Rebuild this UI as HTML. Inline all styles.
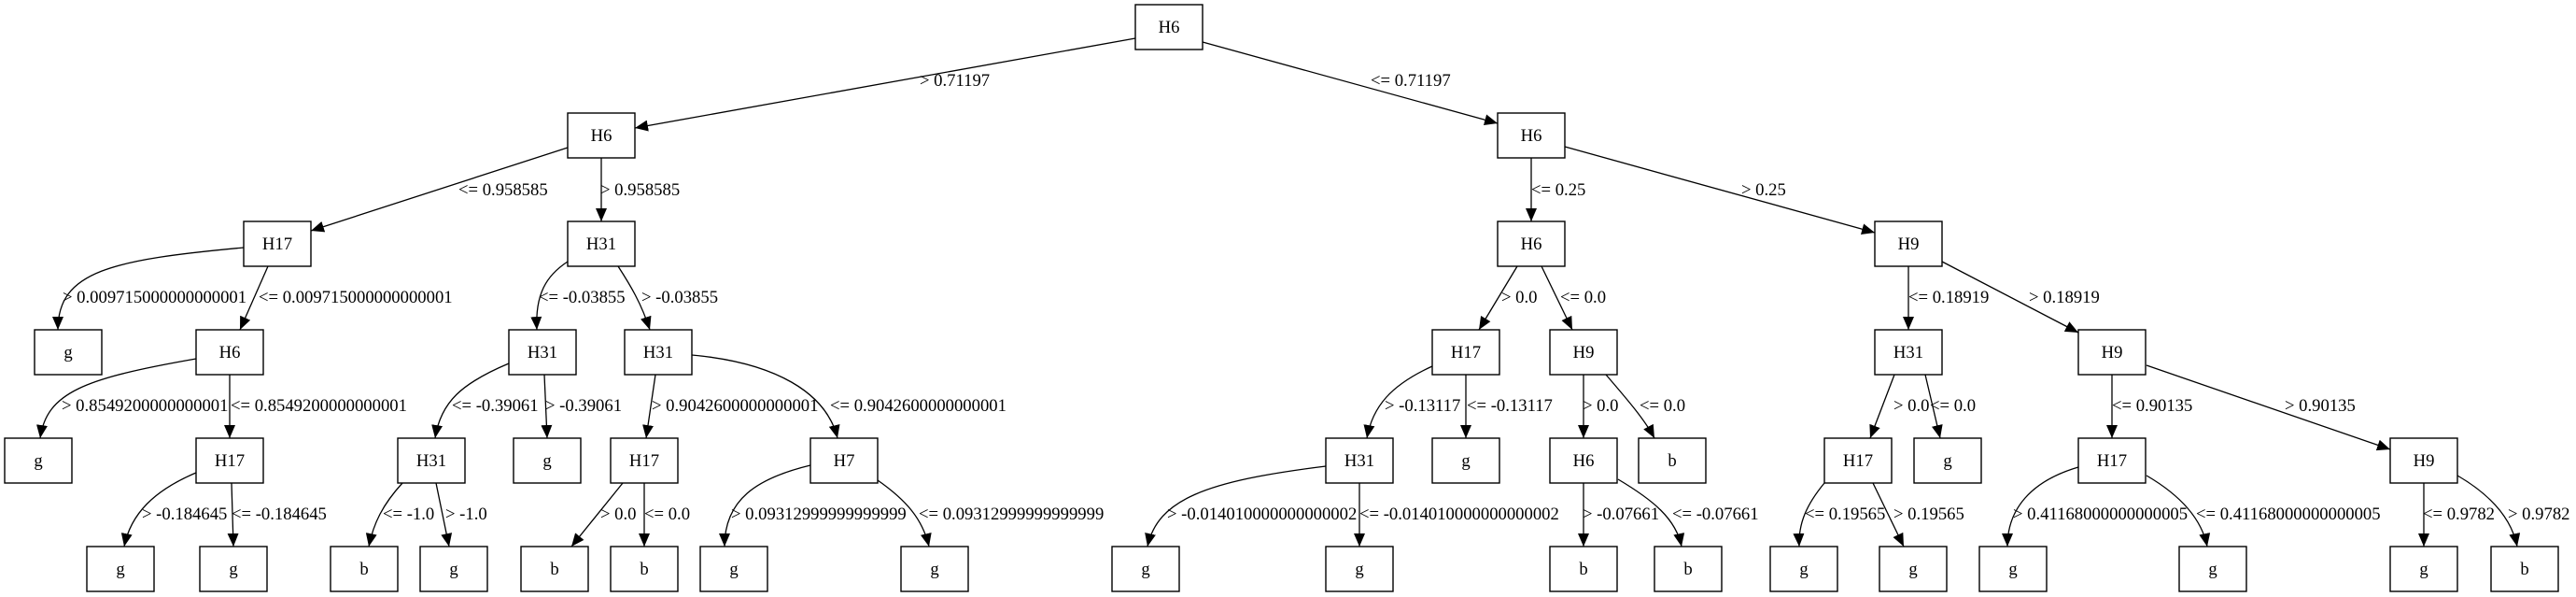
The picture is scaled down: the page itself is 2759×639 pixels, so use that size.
<!DOCTYPE html>
<html><head><meta charset="utf-8"><style>
html,body{margin:0;padding:0;background:#fff;}
svg{display:block;}
text{font-family:"Liberation Serif",serif;font-size:18.67px;fill:#000;}
</style></head><body>
<svg width="2759" height="639" viewBox="0 0 2759 639" xmlns="http://www.w3.org/2000/svg">
<defs>
<marker id="a" markerUnits="userSpaceOnUse" markerWidth="16" markerHeight="12" refX="14" refY="6" orient="auto">
<path d="M0,0 L14,6 L0,12 Z" fill="#000"/>
</marker>
</defs>
<g fill="#fff" stroke="#000" stroke-width="1.4">
<rect x="1216" y="5" width="72" height="48"/>
<rect x="608" y="121" width="72" height="48"/>
<rect x="1604" y="121" width="72" height="48"/>
<rect x="261" y="237" width="72" height="48"/>
<rect x="608" y="237" width="72" height="48"/>
<rect x="1604" y="237" width="72" height="48"/>
<rect x="2008" y="237" width="72" height="48"/>
<rect x="37" y="353" width="72" height="48"/>
<rect x="210" y="353" width="72" height="48"/>
<rect x="545" y="353" width="72" height="48"/>
<rect x="669" y="353" width="72" height="48"/>
<rect x="1534" y="353" width="72" height="48"/>
<rect x="1660" y="353" width="72" height="48"/>
<rect x="2008" y="353" width="72" height="48"/>
<rect x="2226" y="353" width="72" height="48"/>
<rect x="5" y="469" width="72" height="48"/>
<rect x="210" y="469" width="72" height="48"/>
<rect x="426" y="469" width="72" height="48"/>
<rect x="550" y="469" width="72" height="48"/>
<rect x="654" y="469" width="72" height="48"/>
<rect x="868" y="469" width="72" height="48"/>
<rect x="1420" y="469" width="72" height="48"/>
<rect x="1534" y="469" width="72" height="48"/>
<rect x="1660" y="469" width="72" height="48"/>
<rect x="1755" y="469" width="72" height="48"/>
<rect x="1954" y="469" width="72" height="48"/>
<rect x="2050" y="469" width="72" height="48"/>
<rect x="2226" y="469" width="72" height="48"/>
<rect x="2560" y="469" width="72" height="48"/>
<rect x="93" y="585" width="72" height="48"/>
<rect x="214" y="585" width="72" height="48"/>
<rect x="354" y="585" width="72" height="48"/>
<rect x="450" y="585" width="72" height="48"/>
<rect x="558" y="585" width="72" height="48"/>
<rect x="654" y="585" width="72" height="48"/>
<rect x="750" y="585" width="72" height="48"/>
<rect x="965" y="585" width="72" height="48"/>
<rect x="1191" y="585" width="72" height="48"/>
<rect x="1420" y="585" width="72" height="48"/>
<rect x="1660" y="585" width="72" height="48"/>
<rect x="1772" y="585" width="72" height="48"/>
<rect x="1896" y="585" width="72" height="48"/>
<rect x="2013" y="585" width="72" height="48"/>
<rect x="2120" y="585" width="72" height="48"/>
<rect x="2334" y="585" width="72" height="48"/>
<rect x="2560" y="585" width="72" height="48"/>
<rect x="2668" y="585" width="72" height="48"/>
</g>
<g fill="none" stroke="#000" stroke-width="1.3" marker-end="url(#a)">
<path d="M1216,41 L680,137"/>
<path d="M1288,45 L1604,132"/>
<path d="M608,158 L333,247"/>
<path d="M644,169 L644,237"/>
<path d="M1640,169 L1640,237"/>
<path d="M1676,157 L2008,249"/>
<path d="M261,265 C120,278 62,290 62,353"/>
<path d="M287,285 L257,353"/>
<path d="M608,280 C585,295 573,315 575,353"/>
<path d="M662,285 C675,305 687,325 696,353"/>
<path d="M1625,285 L1584,353"/>
<path d="M1651,285 L1684,353"/>
<path d="M2044,285 L2044,353"/>
<path d="M2080,280 L2226,356"/>
<path d="M210,384 C90,405 50,420 43,469"/>
<path d="M246,401 L246,469"/>
<path d="M545,389 C495,410 472,430 466,469"/>
<path d="M583,401 L586,469"/>
<path d="M702,401 L692,469"/>
<path d="M741,380 C830,388 885,420 897,469"/>
<path d="M1534,392 C1490,412 1470,435 1464,469"/>
<path d="M1570,401 L1570,469"/>
<path d="M1696,401 L1696,469"/>
<path d="M1720,401 C1745,430 1762,450 1772,469"/>
<path d="M2029,401 L2003,469"/>
<path d="M2062,401 L2078,469"/>
<path d="M2262,401 L2262,469"/>
<path d="M2299,391 L2560,481"/>
<path d="M210,506 C165,525 140,550 133,585"/>
<path d="M248,517 L250,585"/>
<path d="M431,517 C410,540 400,560 395,585"/>
<path d="M467,517 L481,585"/>
<path d="M667,517 L612,585"/>
<path d="M690,517 L690,585"/>
<path d="M868,498 C810,512 776,535 776,585"/>
<path d="M940,514 C970,535 988,555 995,585"/>
<path d="M1420,499 C1290,515 1240,535 1229,585"/>
<path d="M1456,517 L1456,585"/>
<path d="M1696,517 L1696,585"/>
<path d="M1733,513 C1770,535 1795,555 1801,585"/>
<path d="M1954,517 C1935,540 1926,560 1927,585"/>
<path d="M2006,517 L2039,585"/>
<path d="M2226,500 C2175,515 2150,545 2150,585"/>
<path d="M2299,509 C2335,530 2358,555 2364,585"/>
<path d="M2596,517 L2596,585"/>
<path d="M2632,509 C2668,530 2690,555 2696,585"/>
</g>
<g text-anchor="middle">
<text x="1252" y="35">H6</text>
<text x="644" y="151">H6</text>
<text x="1640" y="151">H6</text>
<text x="297" y="267">H17</text>
<text x="644" y="267">H31</text>
<text x="1640" y="267">H6</text>
<text x="2044" y="267">H9</text>
<text x="73" y="383">g</text>
<text x="246" y="383">H6</text>
<text x="581" y="383">H31</text>
<text x="705" y="383">H31</text>
<text x="1570" y="383">H17</text>
<text x="1696" y="383">H9</text>
<text x="2044" y="383">H31</text>
<text x="2262" y="383">H9</text>
<text x="41" y="499">g</text>
<text x="246" y="499">H17</text>
<text x="462" y="499">H31</text>
<text x="586" y="499">g</text>
<text x="690" y="499">H17</text>
<text x="904" y="499">H7</text>
<text x="1456" y="499">H31</text>
<text x="1570" y="499">g</text>
<text x="1696" y="499">H6</text>
<text x="1791" y="499">b</text>
<text x="1990" y="499">H17</text>
<text x="2086" y="499">g</text>
<text x="2262" y="499">H17</text>
<text x="2596" y="499">H9</text>
<text x="129" y="615">g</text>
<text x="250" y="615">g</text>
<text x="390" y="615">b</text>
<text x="486" y="615">g</text>
<text x="594" y="615">b</text>
<text x="690" y="615">b</text>
<text x="786" y="615">g</text>
<text x="1001" y="615">g</text>
<text x="1227" y="615">g</text>
<text x="1456" y="615">g</text>
<text x="1696" y="615">b</text>
<text x="1808" y="615">b</text>
<text x="1932" y="615">g</text>
<text x="2049" y="615">g</text>
<text x="2156" y="615">g</text>
<text x="2370" y="615">g</text>
<text x="2596" y="615">g</text>
<text x="2704" y="615">b</text>
</g>
<g>
<text x="985" y="92">&gt; 0.71197</text>
<text x="1468" y="92">&lt;= 0.71197</text>
<text x="491" y="209">&lt;= 0.958585</text>
<text x="643" y="209">&gt; 0.958585</text>
<text x="1640" y="209">&lt;= 0.25</text>
<text x="1865" y="209">&gt; 0.25</text>
<text x="67" y="324">&gt; 0.009715000000000001</text>
<text x="277" y="324">&lt;= 0.009715000000000001</text>
<text x="577" y="324">&lt;= -0.03855</text>
<text x="687" y="324">&gt; -0.03855</text>
<text x="1608" y="324">&gt; 0.0</text>
<text x="1671" y="324">&lt;= 0.0</text>
<text x="2044" y="324">&lt;= 0.18919</text>
<text x="2173" y="324">&gt; 0.18919</text>
<text x="66" y="440">&gt; 0.8549200000000001</text>
<text x="247" y="440">&lt;= 0.8549200000000001</text>
<text x="484" y="440">&lt;= -0.39061</text>
<text x="584" y="440">&gt; -0.39061</text>
<text x="698" y="440">&gt; 0.9042600000000001</text>
<text x="889" y="440">&lt;= 0.9042600000000001</text>
<text x="1483" y="440">&gt; -0.13117</text>
<text x="1571" y="440">&lt;= -0.13117</text>
<text x="1695" y="440">&gt; 0.0</text>
<text x="1756" y="440">&lt;= 0.0</text>
<text x="2028" y="440">&gt; 0.0</text>
<text x="2067" y="440">&lt;= 0.0</text>
<text x="2262" y="440">&lt;= 0.90135</text>
<text x="2447" y="440">&gt; 0.90135</text>
<text x="152" y="556">&gt; -0.184645</text>
<text x="248" y="556">&lt;= -0.184645</text>
<text x="410" y="556">&lt;= -1.0</text>
<text x="477" y="556">&gt; -1.0</text>
<text x="643" y="556">&gt; 0.0</text>
<text x="690" y="556">&lt;= 0.0</text>
<text x="783" y="556">&gt; 0.09312999999999999</text>
<text x="984" y="556">&lt;= 0.09312999999999999</text>
<text x="1250" y="556">&gt; -0.014010000000000002</text>
<text x="1456" y="556">&lt;= -0.014010000000000002</text>
<text x="1695" y="556">&gt; -0.07661</text>
<text x="1791" y="556">&lt;= -0.07661</text>
<text x="1933" y="556">&lt;= 0.19565</text>
<text x="2028" y="556">&gt; 0.19565</text>
<text x="2156" y="556">&gt; 0.41168000000000005</text>
<text x="2352" y="556">&lt;= 0.41168000000000005</text>
<text x="2595" y="556">&lt;= 0.9782</text>
<text x="2686" y="556">&gt; 0.9782</text>
</g>
</svg>
</body></html>
